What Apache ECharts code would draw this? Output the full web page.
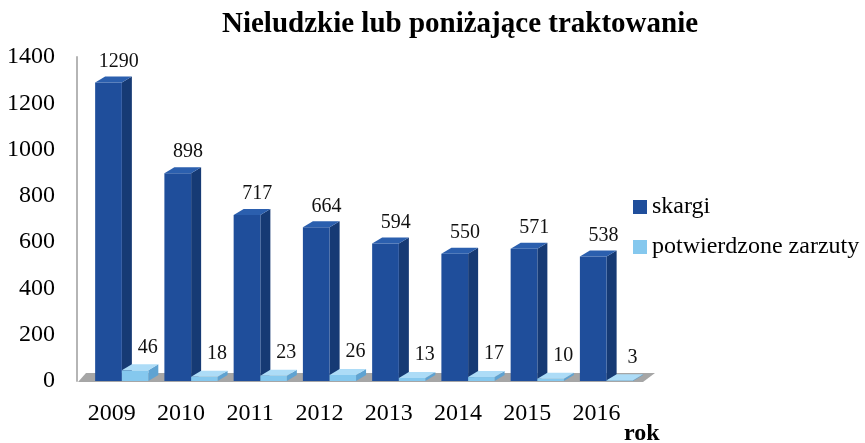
<!DOCTYPE html>
<html>
<head>
<meta charset="utf-8">
<script src="https://cdn.jsdelivr.net/npm/echarts@6/dist/echarts.min.js"></script>
<style>
  html, body { margin: 0; padding: 0; background: #fff; }
  #chart { width: 865px; height: 443px; }
</style>
</head>
<body>
<div id="chart"></div>
<script>
const years = ['2009', '2010', '2011', '2012', '2013', '2014', '2015', '2016']
const skargi = [1290, 898, 717, 664, 594, 550, 571, 538]
const potwierdzone = [46, 18, 23, 26, 13, 17, 10, 3]
const yTicks = { min: 0, max: 1400, interval: 200 }

const serif = '"Liberation Serif", "Times New Roman", serif'
const depthX = 10
const depthY = 6

// one 3D-looking box per data item, placed from the category band
const makeBox = (leftF, rightF, colors, labelDx, labelDy) => (params, api) => {
  const idx = api.value(0)
  const val = api.value(1)
  const top = api.coord([idx, val])
  const base = api.coord([idx, 0])
  const bw = api.size([1, 0])[0]
  const c = top[0]
  const xl = c + leftF * bw
  const xr = c + rightF * bw
  const yt = top[1]
  const yb = base[1]
  return {
    type: 'group',
    children: [
      {
        type: 'polygon',
        shape: { points: [[xr, yt], [xr + depthX, yt - depthY], [xr + depthX, yb - depthY], [xr, yb]] },
        style: { fill: colors.side }
      },
      {
        type: 'rect',
        shape: { x: xl, y: yt, width: xr - xl, height: yb - yt },
        style: { fill: colors.front }
      },
      {
        type: 'polygon',
        shape: { points: [[xl, yt], [xl + depthX, yt - depthY], [xr + depthX, yt - depthY], [xr, yt]] },
        style: { fill: colors.top }
      },
      {
        type: 'text',
        x: c + labelDx,
        y: yt - labelDy,
        style: {
          text: String(val),
          fill: '#111',
          fontSize: 20,
          fontFamily: serif,
          align: 'center',
          verticalAlign: 'middle'
        }
      }
    ]
  }
}

const renderFloor = (params) => {
  const cs = params.coordSys
  const yb = cs.y + cs.height
  const x0 = cs.x
  const x1 = cs.x + cs.width
  return {
    type: 'polygon',
    shape: { points: [[x0 + 1, yb + 1], [x1 + 12, yb + 1], [x1 + 24, yb - 8], [x0 + 9, yb - 8]] },
    style: { fill: '#a6a6a6' }
  }
}

const darkColors = { front: '#1f4e9b', side: '#163a74', top: '#2b5fae' }
const lightColors = { front: '#85c8ee', side: '#5fa3d2', top: '#addcf7' }

const chart = echarts.init(document.getElementById('chart'))
chart.setOption({
  animation: false,
  title: [
    {
      text: 'Nieludzkie lub poniżające traktowanie',
      left: 217,
      top: 5,
      textStyle: { fontFamily: serif, fontSize: 29, fontWeight: 'bold', color: '#000' }
    },
    {
      text: 'rok',
      left: 619,
      top: 417,
      textStyle: { fontFamily: serif, fontSize: 24, fontWeight: 'bold', color: '#000' }
    }
  ],
  legend: {
    data: ['skargi', 'potwierdzone zarzuty'],
    orient: 'vertical',
    left: 628,
    top: 190,
    itemWidth: 14,
    itemHeight: 14,
    itemGap: 16,
    icon: 'rect',
    textStyle: { fontFamily: serif, fontSize: 24, color: '#000' }
  },
  grid: { left: 77, right: 234, top: 57, bottom: 62 },
  xAxis: {
    type: 'category',
    data: years,
    axisLine: { show: false },
    axisTick: { show: false },
    axisLabel: { fontFamily: serif, fontSize: 24, color: '#000', margin: 21 }
  },
  yAxis: {
    type: 'value',
    min: yTicks.min,
    max: yTicks.max,
    interval: yTicks.interval,
    splitLine: { show: false },
    axisTick: { show: false },
    axisLine: { show: true, lineStyle: { color: '#b5b5b5', width: 2 } },
    axisLabel: { fontFamily: serif, fontSize: 24, color: '#000', margin: 22, formatter: (v) => String(v) }
  },
  series: [
    {
      type: 'custom',
      name: 'floor',
      renderItem: renderFloor,
      data: [[0, 0]],
      silent: true
    },
    {
      type: 'custom',
      name: 'skargi',
      itemStyle: { color: darkColors.front },
      renderItem: makeBox(-0.238, 0.148, darkColors, 7, 21),
      data: skargi.map((v, i) => [i, v])
    },
    {
      type: 'custom',
      name: 'potwierdzone zarzuty',
      itemStyle: { color: lightColors.front },
      renderItem: makeBox(0.148, 0.53, lightColors, 36, 23),
      data: potwierdzone.map((v, i) => [i, v])
    }
  ]
})
</script>
</body>
</html>
